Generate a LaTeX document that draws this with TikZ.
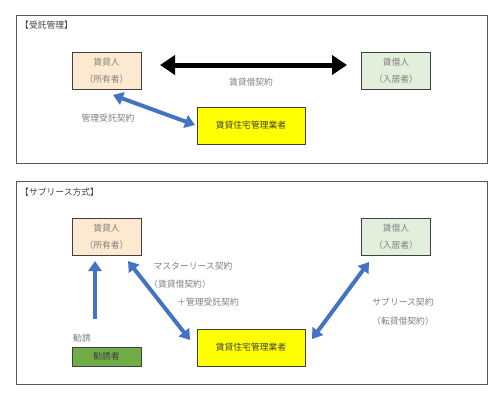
\documentclass[tikz,border=0pt]{standalone}
\usepackage{fontspec}
\setmainfont{Noto Sans CJK JP}
\usetikzlibrary{arrows.meta}
\definecolor{txtgray}{HTML}{7F7F7F}
\definecolor{darktxt}{HTML}{404040}
\definecolor{peach}{HTML}{FCE9CF}
\definecolor{palegreen}{HTML}{E2EFDA}
\definecolor{darkgreen}{HTML}{70AD47}
\definecolor{yel}{HTML}{FFFF00}
\definecolor{blu}{HTML}{4472C4}
\definecolor{framegray}{HTML}{595959}
\tikzset{
  frame/.style={draw=framegray, line width=1pt},
  pbox/.style={draw=darktxt, line width=0.9pt, minimum width=69pt, minimum height=37pt, inner sep=0pt, align=center, text=txtgray, font=\fontsize{8.8}{17}\selectfont},
  ybox/.style={pbox, fill=yel, minimum width=108pt, text=darktxt},
  gbox/.style={pbox, fill=darkgreen, minimum height=19pt, text=darktxt},
  lbl/.style={text=txtgray, font=\fontsize{8.8}{10}\selectfont, inner sep=0pt},
  ttl/.style={text=darktxt, font=\fontsize{8.8}{10}\selectfont, inner sep=0pt, anchor=west},
  blarrow/.style={draw=blu, line width=4pt, {Triangle[length=10pt,width=13pt]}-{Triangle[length=10pt,width=13pt]}},
  bkarrow/.style={draw=black, line width=5pt, {Triangle[length=15pt,width=19pt]}-{Triangle[length=15pt,width=19pt]}},
}
\begin{document}
\begin{tikzpicture}[x=1pt,y=-1pt]
\fill[white] (0,0) rectangle (500,402);
\useasboundingbox (0,0) rectangle (500,402);
% top frame
\draw[frame] (16,15) rectangle (487,163);
\node[ttl] (t1) at (20,25) {【受託管理】};
\node[pbox, fill=peach] (o1) at (106.5,70.5) {賃貸人\\（所有者）};
\node[pbox, fill=palegreen] (r1) at (396,70.5) {賃借人\\（入居者）};
\node[ybox] (m1) at (251,125.5) {賃貸住宅管理業者};
\coordinate (a1) at (160,65);
\coordinate (a2) at (347,65);
\draw[bkarrow] (a1) -- (a2);
\node[lbl] (l1) at (251,82) {賃貸借契約};
\coordinate (b1) at (113,95);
\coordinate (b2) at (195,125);
\draw[blarrow] (b1) -- (b2);
\node[lbl] (l2) at (108,118) {管理受託契約};
% bottom frame
\draw[frame] (16,181) rectangle (487,384);
\node[ttl] (t2) at (20,192) {【サブリース方式】};
\node[pbox, fill=peach] (o2) at (106.5,236.5) {賃貸人\\（所有者）};
\node[pbox, fill=palegreen] (r2) at (396,236.5) {賃借人\\（入居者）};
\node[ybox] (m2) at (251,347.5) {賃貸住宅管理業者};
\node[gbox] (k) at (106.5,356.5) {勧誘者};
\node[lbl, anchor=west] (l3) at (73,338) {勧誘};
\coordinate (c1) at (95,319);
\coordinate (c2) at (95,261);
\draw[draw=blu, line width=4pt, -{Triangle[length=10pt,width=13pt]}] (c1) -- (c2);
\coordinate (d1) at (128,261);
\coordinate (d2) at (190,340);
\draw[blarrow] (d1) -- (d2);
\coordinate (e1) at (369,262);
\coordinate (e2) at (312,339);
\draw[blarrow] (e1) -- (e2);
\node[lbl] (l4) at (193,266) {マスターリース契約};
\node[lbl] (l5) at (180,284) {（賃貸借契約）};
\node[lbl] (l6) at (208,302) {＋管理受託契約};
\node[lbl] (l7) at (403,302) {サブリース契約};
\node[lbl] (l8) at (403,321) {（転貸借契約）};
\end{tikzpicture}
\end{document}
